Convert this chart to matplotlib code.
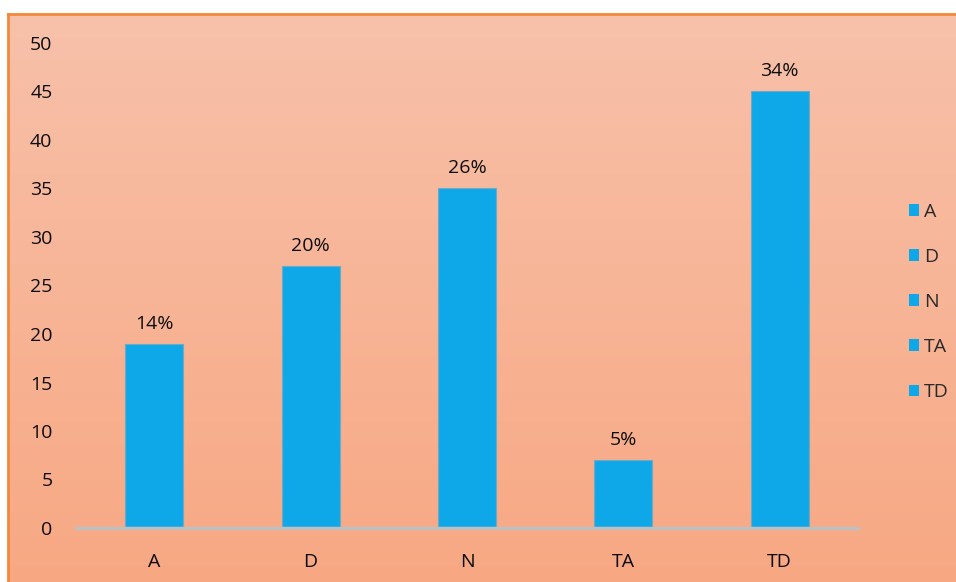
import numpy as np
import matplotlib
matplotlib.use("Agg")
import matplotlib.pyplot as plt
from matplotlib.patches import Patch
from matplotlib.colors import LinearSegmentedColormap

# Data
categories = ["A", "D", "N", "TA", "TD"]
values = [19, 27, 35, 7, 45]
pct_labels = ["14%", "20%", "26%", "5%", "34%"]
y_ticks = [0, 5, 10, 15, 20, 25, 30, 35, 40, 45, 50]

bar_color = "#0ea8e8"
plt.rcParams["font.family"] = ["Open Sans", "DejaVu Sans"]
fs = 14

W, H = 956, 582
fig = plt.figure(figsize=(W / 100, H / 100), dpi=100)
fig.patch.set_facecolor("white")

# Gradient background panel with orange border on top/left
bg = fig.add_axes([8 / W, 0, 1 - 8 / W, (H - 14) / H], zorder=0)
cmap = LinearSegmentedColormap.from_list("bg", ["#f8c1aa", "#f7a883"])
grad = np.linspace(0, 1, 256).reshape(-1, 1)
bg.imshow(grad, aspect="auto", cmap=cmap, extent=[0, 1, 0, 1], origin="upper")
bg.set_xticks([])
bg.set_yticks([])
for side in ["right", "bottom"]:
    bg.spines[side].set_visible(False)
for side in ["top", "left"]:
    bg.spines[side].set_color("#f4873a")
    bg.spines[side].set_linewidth(2)

# Main chart
ax = fig.add_axes([76 / W, 54 / H, (858 - 76) / W, (539 - 54) / H], zorder=1)
ax.patch.set_alpha(0)
x = np.arange(len(categories))
bars = ax.bar(x, values, width=0.37, color=bar_color, edgecolor="#6fa9c4", linewidth=0.8, zorder=2)

for b, lab in zip(bars, pct_labels):
    ax.annotate(lab, (b.get_x() + b.get_width() / 2, b.get_height()),
                xytext=(0, 8), textcoords="offset points",
                ha="center", va="bottom", fontsize=fs, color="#0d0d0d")

ax.set_xlim(-0.5, len(categories) - 0.5)
ax.set_ylim(0, 50)
ax.set_yticks(y_ticks)
ax.set_xticks(x)
ax.set_xticklabels(categories)
ax.tick_params(axis="both", length=0, labelsize=fs, colors="#0d0d0d")
ax.tick_params(axis="y", pad=17)
ax.tick_params(axis="x", pad=18)
for side in ["top", "right", "left"]:
    ax.spines[side].set_visible(False)
ax.spines["bottom"].set_color("#bfbfbf")
ax.spines["bottom"].set_linewidth(2.5)

# Legend
handles = [Patch(facecolor=bar_color, edgecolor="none", label=c) for c in categories]
fig.legend(handles=handles, loc="center left", bbox_to_anchor=(891 / W, 1 - 302 / H),
           frameon=False, fontsize=fs, handlelength=0.55, handleheight=0.55,
           handletextpad=0.25, labelspacing=1.4, labelcolor="#2a2a2a")

fig.savefig("out.png", dpi=100)
